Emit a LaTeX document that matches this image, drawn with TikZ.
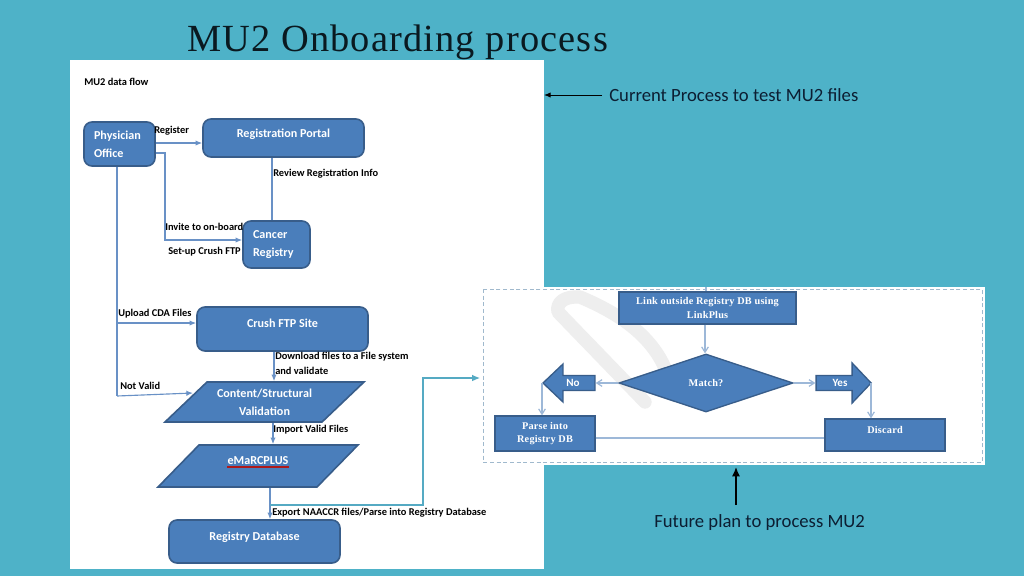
\documentclass[tikz,border=0pt]{standalone}
\usepackage{fontspec}
\setmainfont{Carlito}
\newfontfamily\titlefont[LetterSpace=3]{Liberation Serif}
\newfontfamily\serifb[LetterSpace=2]{Liberation Serif}
\usetikzlibrary{shapes.geometric,shapes.arrows,arrows.meta}
\definecolor{bgteal}{RGB}{78,178,200}
\definecolor{boxfill}{RGB}{74,126,187}
\definecolor{boxline}{RGB}{56,93,138}
\definecolor{conn}{RGB}{105,145,198}
\definecolor{connl}{RGB}{157,184,216}
\definecolor{dashc}{RGB}{160,185,205}
\definecolor{wm}{RGB}{238,238,238}
\tikzset{
  x=0.75pt,y=-0.75pt,
  boxbase/.style={draw=boxline,fill=boxfill,line width=1.2pt,text=white,inner sep=0pt,
    font=\fontsize{9.1}{13.5}\selectfont\bfseries,align=center},
  rbox/.style={boxbase,rounded corners=6pt},
  para/.style={boxbase,trapezium,trapezium left angle=#1,trapezium right angle=180-#1},
  sbox/.style={boxbase,font=\fontsize{7.7}{10}\serifb\bfseries,line width=1pt},
  lift/.style={text height=0pt,text depth=#1*1.5pt},
  lbl/.style={anchor=base west,inner sep=0pt,text=black,font=\fontsize{7.8}{9}\selectfont\bfseries},
  side/.style={anchor=base west,inner sep=0pt,text={rgb,255:red,12;green,30;blue,50},font=\fontsize{14}{17}\selectfont},
  cn/.style={draw=conn,line width=0.85pt,-{Latex[length=5pt,width=4pt]}},
  cnp/.style={draw=conn,line width=0.85pt},
  cl/.style={draw=connl,line width=0.9pt,-{Straight Barb[length=4pt,width=5pt]}},
  clp/.style={draw=connl,line width=0.9pt},
}
\begin{document}
\begin{tikzpicture}
\useasboundingbox (0,0) rectangle (1024,576);
\fill[bgteal] (0,0) rectangle (1024,576);
\fill[white] (70,60) rectangle (544,569);
\fill[white] (483,287) rectangle (985,465);
% watermark
\draw[wm,line width=10pt,line join=round,line cap=round] (645,402) -- (558,312) .. controls (556,302) and (565,296) .. (580,297) .. controls (635,320) and (665,350) .. (672,392);
\draw[dashc,densely dashed,line width=0.6pt] (483,289) rectangle (982,462);
\node[anchor=base west,inner sep=0pt,text={rgb,255:red,10;green,25;blue,32},font=\fontsize{28.8}{30}\titlefont] (title) at (187,51.5) {MU2 Onboarding process};
% side notes
\node[side] (cur) at (609,101) {Current Process to test MU2 files};
\node[side] (fut) at (654,527) {Future plan to process MU2};
\coordinate (panelr) at (544,95);
\coordinate (panelb) at (736,467);
\coordinate (curtail) at (602,95);
\coordinate (futtail) at (736,505);
\draw[black,line width=0.7pt,-{Latex[length=5pt,width=4pt]}] (curtail) -- (panelr);
\draw[black,line width=1pt,-{Latex[length=7pt,width=6pt]}] (futtail) -- (panelb);
% left diagram nodes
\node[lbl] (flow) at (84,85) {MU2 data flow};
\node[rbox,minimum width=53.25pt,minimum height=33pt,text width=38.25pt,align=left] (phys) at (119.5,144) {Physician\\Office};
\node[rbox,minimum width=120.75pt,minimum height=28.5pt,lift=0.5] (portal) at (283.5,138) {Registration Portal};
\node[rbox,minimum width=50.25pt,minimum height=35.25pt,text width=35.25pt,align=left] (cancer) at (276.5,244.5) {Cancer\\Registry};
\node[rbox,minimum width=128.25pt,minimum height=33pt,lift=2] (crush) at (282.5,329) {Crush FTP Site};
\node[para=43.6] (content) at (264.5,402) {\parbox[c][30pt][c]{86.25pt}{\centering Content/Structural\\Validation}};
\node[para=45.7] (emarc) at (258,466) {\parbox[c][31.5pt][t]{88.5pt}{\centering\vspace{9pt}eMaRCPLUS}};
\node[rbox,minimum width=128.25pt,minimum height=32.25pt,lift=1.5] (regdb) at (254.5,541.5) {Registry Database};
\coordinate (ulL) at (227,467);
\coordinate (ulR) at (289,467);
\draw[red!65!black!90!white,line width=0.8pt] (ulL) -- (ulR);
% left labels
\node[lbl] (lreg) at (154,133) {Register};
\node[lbl] (lrev) at (273,176.5) {Review Registration Info};
\node[lbl] (linv) at (165,230) {Invite to on-board};
\node[lbl] (lset) at (168,254.5) {Set-up Crush FTP};
\node[lbl] (lup) at (118,316.5) {Upload CDA Files};
\node[lbl] (ldl) at (275,359.5) {Download files to a File system};
\node[lbl] (lval) at (275,374.5) {and validate};
\node[lbl] (lnot) at (120,389.5) {Not Valid};
\node[lbl] (limp) at (273,432.5) {Import Valid Files};
\node[lbl] (lexp) at (272,515.5) {Export NAACCR files/Parse into Registry Database};
% left connectors
\coordinate (xa) at (165,0);
\coordinate (xb) at (117,0);
\coordinate (xc) at (272,0);
\coordinate (xd) at (274,0);
\coordinate (xe) at (273,0);
\coordinate (xf) at (270,0);
\coordinate (ya) at (0,143);
\coordinate (yb) at (0,153);
\coordinate (yc) at (0,240);
\coordinate (yd) at (0,323);
\coordinate (ye) at (0,396);
\coordinate (yf) at (0,505);
\coordinate (contentleft) at (193,393);
\draw[cn] (phys.east |- ya) -- (portal.west |- ya);
\draw[cn] (phys.east |- yb) -- (xa |- yb) -- (xa |- yc) -- (cancer.west |- yc);
\draw[cnp] (portal.south -| xc) -- (cancer.north -| xc);
\draw[cnp] (phys.south -| xb) -- (xb |- ye);
\draw[cn] (xb |- yd) -- (crush.west |- yd);
\draw[cn] (xb |- ye) -- (contentleft);
\draw[cn] (crush.south -| xd) -- (content.north -| xd);
\draw[cn] (content.south -| xe) -- (emarc.north -| xe);
\draw[cn] (emarc.south -| xf) -- (regdb.north -| xf);
\coordinate (dashin) at (480,378);
\draw[draw={rgb,255:red,85;green,170;blue,195},line width=0.8pt,-{Latex[length=6pt,width=5pt]}] (xf |- yf) -- (423,505) -- (423,378) -- (dashin);
% right diagram nodes
\node[sbox,minimum width=132.75pt,minimum height=24pt] (link) at (707.5,308) {Link outside Registry DB using\\LinkPlus};
\node[sbox,diamond,minimum width=130.5pt,minimum height=43.5pt,aspect=3] (match) at (706,383) {Match?};
\node[boxbase,single arrow,shape border rotate=180,single arrow head extend=5pt,single arrow tip angle=87,single arrow head indent=0pt,minimum width=28.5pt,minimum height=39pt,anchor=tip,font=\fontsize{8.3}{9}\selectfont\bfseries,line width=1pt] (no) at (542,383) {No};
\node[boxbase,single arrow,single arrow head extend=5.3pt,single arrow tip angle=93,single arrow head indent=0pt,minimum width=30pt,minimum height=41.25pt,anchor=tip,font=\fontsize{8.3}{9}\selectfont\bfseries,line width=1pt] (yes) at (872,383) {Yes};
\node[sbox,minimum width=75pt,minimum height=26.25pt] (parse) at (545,433.5) {Parse into\\Registry DB};
\node[sbox,minimum width=90pt,minimum height=24pt,lift=1.5] (discard) at (885,435) {Discard};
% right connectors
\coordinate (linktop) at (706,287);
\coordinate (xg) at (705,0);
\coordinate (xh) at (871,0);
\coordinate (yg) at (0,438);
\draw[clp] (linktop) -- (link.north -| linktop);
\draw[cl] (link.south -| xg) -- (match.north -| xg);
\draw[cl] (match.west) -- (no.tail);
\draw[cl] (match.east) -- (yes.tail);
\draw[cl] (no.tip) -- (no.tip |- parse.north);
\draw[cl] (xh |- yes.tip) -- (discard.north -| xh);
\draw[clp] (parse.east |- yg) -- (discard.west |- yg);
\end{tikzpicture}
\end{document}
